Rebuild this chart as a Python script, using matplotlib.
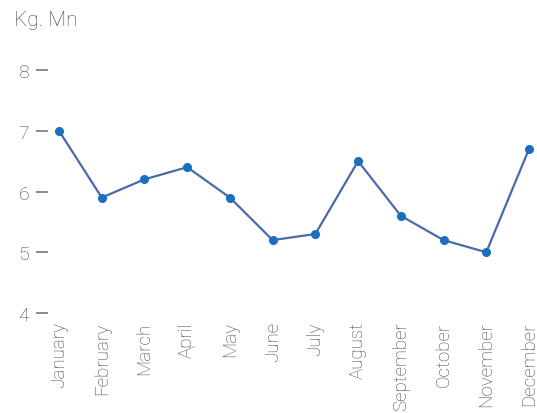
import matplotlib
matplotlib.use("Agg")
import matplotlib.pyplot as plt

months = ["January", "February", "March", "April", "May", "June", "July",
          "August", "September", "October", "November", "December"]
values = [7.0, 5.9, 6.2, 6.4, 5.9, 5.2, 5.3, 6.5, 5.6, 5.2, 5.0, 6.7]
yticks = [4, 5, 6, 7, 8]
unit_label = "Kg. Mn"

plt.rcParams['font.family'] = ['Roboto', 'DejaVu Sans']
plt.rcParams['font.weight'] = 'light'

W, H = 537, 414
# axis line sits at x=48px, first point at 59px, 42.7px per month
step = 470 / 11
pad = 11 / step
left = 48
fig = plt.figure(figsize=(W / 100, H / 100), dpi=100)
ax = fig.add_axes([left / W, 100 / H, (470 + 2 * 11) / W, 243 / H])

x = list(range(len(months)))
ax.plot(x, values, color="#4a6aa8", linewidth=1.6, clip_on=False, zorder=2)
ax.plot(x, values, linestyle="none", marker="o", markersize=5.5,
        color="#1a6fbf", clip_on=False, zorder=3)

ax.set_xlim(-pad, len(months) - 1 + pad)
ax.set_ylim(4, 8)
ax.set_yticks(yticks)
ax.set_yticklabels([str(t) for t in yticks])
ax.set_xticks(x)
ax.set_xticklabels(months, rotation=90, ha="center", va="top")

for s in ax.spines.values():
    s.set_visible(False)

ax.tick_params(axis="y", length=9, width=1.4, color="#8a8a8a", pad=4.5,
               labelsize=14, labelcolor="#474747")
ax.tick_params(axis="x", length=0, pad=6, labelsize=13.5, labelcolor="#474747")

fig.text(14 / W, 1 - 20 / H, unit_label, ha="left", va="center",
         fontsize=15, color="#474747")

fig.savefig("out.png", dpi=100)
